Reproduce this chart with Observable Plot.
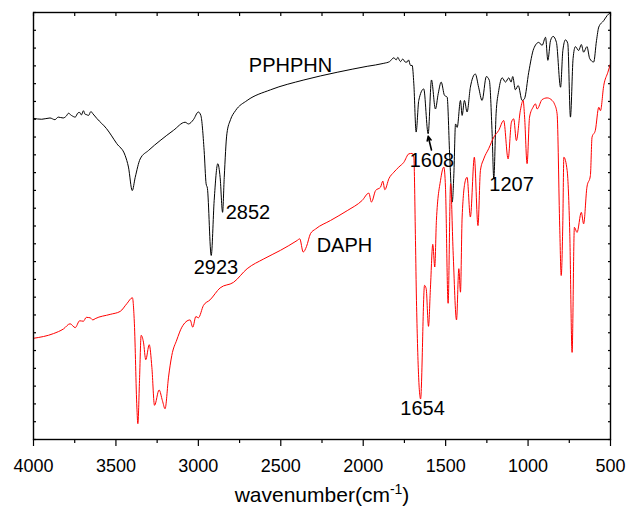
<!DOCTYPE html>
<html>
<head>
<meta charset="utf-8">
<script src="https://cdn.jsdelivr.net/npm/d3@7"></script>
<script src="https://cdn.jsdelivr.net/npm/@observablehq/plot@0.6"></script>
<style>
  html, body { margin: 0; padding: 0; background: #fff; }
  #chart { width: 628px; height: 507px; }
  svg { font-family: "Liberation Sans", Arial, sans-serif; }
</style>
</head>
<body>
<div id="chart"></div>
<script>
// PPHPHN spectrum (black): wavenumber (cm-1) and transmittance (a.u., % of frame height)
const pphphnWavenumber = [4000,3950,3900,3870,3850,3820,3800,3788,3770,3747,3730,3720,3710,3697,3688,3680,3666,3652,3640,3616,3557,3495,3444,3424,3401,3383,3353,3302,3232,3151,3080,3060,3030,3000,2985,2965,2953,2945,2922,2904,2882,2868,2853,2843,2827,2805,2775,2704,2562,2360,2158,1976,1875,1840,1814,1800,1790,1780,1774,1760,1745,1733,1725,1713,1703,1693,1679,1663,1633,1606,1586,1562,1545,1527,1507,1491,1475,1460,1450,1440,1430,1410,1400,1386,1370,1350,1320,1300,1279,1253,1235,1218,1208,1194,1178,1157,1137,1117,1103,1093,1077,1060,1036,1022,996,966,935,915,894,880,864,848,828,803,789,773,759,743,727,713,693,677,663,643,626,602,585,571,541,520,500];
const pphphnT = [75.2,75.0,75.3,74.9,75.5,75.3,75.8,76.4,75.9,75.5,76.5,76.6,76.0,77.0,76.2,76.1,75.9,76.8,76.3,75.2,72.8,69.3,66.5,63.8,58.3,61.4,65.7,67.7,70.0,72.4,74.3,73.9,74.9,76.7,75.9,67.7,59.9,58.8,43.1,56.0,64.6,61.4,53.2,61.4,71.6,74.9,77.0,79.4,81.9,84.2,86.0,87.4,88.1,88.5,89.4,88.9,89.5,88.8,88.5,89.1,88.4,88.4,88.9,87.6,87.6,83.3,72.0,79.4,82.1,71.6,84.2,77.4,81.0,83.7,80.6,80.2,66.1,55.6,62.3,73.9,73.1,79.4,75.9,79.4,76.7,82.5,85.6,82.5,79.4,85.0,84.1,71.6,61.1,76.3,81.7,84.7,83.7,84.7,83.7,85.0,81.9,82.9,79.4,79.8,86.0,91.5,93.0,92.3,94.2,88.8,93.4,94.4,93.0,82.5,91.1,93.6,92.7,75.5,89.2,92.0,91.1,92.5,90.7,92.0,89.2,88.4,93.4,96.6,98.1,99.3,100];

// DAPH spectrum (red)
const daphWavenumber = [4000,3879,3818,3778,3747,3720,3697,3680,3656,3640,3626,3535,3474,3434,3400,3388,3373,3367,3357,3347,3333,3319,3298,3282,3266,3238,3218,3202,3181,3161,3131,3100,3050,3034,3015,3000,2969,2929,2868,2787,2704,2603,2502,2401,2385,2364,2344,2320,2289,2198,2097,2006,1966,1950,1925,1895,1881,1869,1844,1814,1784,1754,1723,1703,1693,1683,1677,1652,1628,1618,1604,1592,1578,1566,1556,1531,1511,1501,1485,1470,1455,1434,1420,1410,1400,1380,1370,1350,1326,1304,1289,1269,1239,1208,1178,1148,1121,1101,1087,1071,1047,1030,1021,1006,991,970,955,945,915,884,854,840,824,808,799,789,783,763,747,733,719,703,677,663,643,622,612,592,571,561,541,516,500];
const daphT = [23.7,24.8,25.9,27.1,26.2,27.8,27.7,28.6,28.5,28.0,28.3,29.3,30.0,31.8,33.2,27.1,7.6,3.7,13.8,24.4,22.8,18.7,22.2,16.9,8.0,11.6,9.1,7.2,14.6,19.7,23.3,26.3,28.0,26.3,28.8,28.5,31.4,32.7,35.5,36.8,40.0,42.3,44.3,46.6,47.0,43.9,45.2,48.2,49.3,51.3,53.6,56.0,57.7,55.6,58.3,59.1,60.5,58.5,61.1,62.6,63.8,64.9,66.9,67.0,66.1,46.6,32.6,9.5,36.1,35.3,26.5,35.7,45.7,40.4,51.3,60.7,63.8,59.1,31.9,59.9,44.3,28.0,40.0,34.5,52.1,60.7,61.4,52.1,66.1,50.1,63.0,65.7,68.1,70.8,72.4,74.7,65.7,74.3,75.1,70.0,77.0,79.4,75.5,64.6,75.5,77.8,78.6,77.4,79.6,80.0,79.4,78.6,76.3,49.7,38.4,51.3,66.1,63.0,48.2,20.4,49.7,48.5,53.2,50.5,59.1,61.8,70.8,72.4,77.8,77.0,82.9,86.0,88.0];

// Annotations
const seriesLabels = ["PPHPHN", "DAPH"];
const seriesLabelWn = [2441, 2114];
const seriesLabelT = [87.5, 45.4];
const peakLabels = ["2923", "2852", "1608", "1207", "1654"];
const peakLabelWn = [2893, 2699, 1583, 1100, 1640];
const peakLabelT = [40.3, 53.2, 65.3, 59.7, 7.3];

// Axis ticks
const xMajorTicks = [4000, 3500, 3000, 2500, 2000, 1500, 1000, 500];
const xMinorTicks = [3750, 3250, 2750, 2250, 1750, 1250, 750];
const xTopTicks = d3.range(500, 4001, 250);
const yTicks = d3.range(0, 25).map(i => i * 100 / 24);

const pphphn = pphphnWavenumber.map((w, i) => ({wn: w, t: pphphnT[i]}));
const daph = daphWavenumber.map((w, i) => ({wn: w, t: daphT[i]}));
const seriesText = seriesLabels.map((s, i) => ({s, wn: seriesLabelWn[i], t: seriesLabelT[i]}));
const peakText = peakLabels.map((s, i) => ({s, wn: peakLabelWn[i], t: peakLabelT[i]}));

const font = '"Liberation Sans", Arial, sans-serif';

const chart = Plot.plot({
  width: 628,
  height: 507,
  marginLeft: 33,
  marginRight: 18,
  marginTop: 12,
  marginBottom: 68,
  style: {fontFamily: font, background: "#fff", color: "#000"},
  x: {domain: [4000, 500], label: null},
  y: {domain: [0, 100], label: null},
  marks: [
    Plot.axisX({ticks: xMajorTicks, tickSize: 7, tickPadding: 13, fontSize: 18, tickFormat: d => String(d), strokeWidth: 1.2}),
    Plot.axisX({ticks: xMinorTicks, tickSize: 4, tickFormat: () => "", strokeWidth: 1.2}),
    Plot.axisX({anchor: "top", ticks: xTopTicks, tickSize: -3, tickFormat: () => "", strokeWidth: 1.2}),
    Plot.axisY({anchor: "left", ticks: yTicks, tickSize: -3, tickFormat: () => "", strokeWidth: 1.2}),
    Plot.axisY({anchor: "right", ticks: yTicks, tickSize: -3, tickFormat: () => "", strokeWidth: 1.2}),
    Plot.line(pphphn, {x: "wn", y: "t", stroke: "#000", strokeWidth: 1, curve: "monotone-x"}),
    Plot.line(daph, {x: "wn", y: "t", stroke: "#ff0000", strokeWidth: 1, curve: "monotone-x"}),
    Plot.text(seriesText, {x: "wn", y: "t", text: "s", fontSize: 20, fill: "#000"}),
    Plot.text(peakText, {x: "wn", y: "t", text: "s", fontSize: 20, fill: "#000"}),
    Plot.arrow([{x1: 1586, y1: 67.8, x2: 1606, y2: 71.0}], {x1: "x1", y1: "y1", x2: "x2", y2: "y2", stroke: "#000", strokeWidth: 1.6, headLength: 8, headAngle: 50}),
    Plot.frame({stroke: "#000", strokeWidth: 1.4})
  ]
});

document.getElementById("chart").appendChild(chart);

// x-axis title with superscript
const svg = d3.select(chart);
const title = svg.append("text")
  .attr("x", 322).attr("y", 502)
  .attr("text-anchor", "middle")
  .attr("font-size", 21)
  .attr("font-family", font)
  .attr("fill", "#000");
title.append("tspan").text("wavenumber(cm");
title.append("tspan").attr("dy", -8).attr("font-size", 14).text("-1");
title.append("tspan").attr("dy", 8).text(")");
</script>
</body>
</html>
